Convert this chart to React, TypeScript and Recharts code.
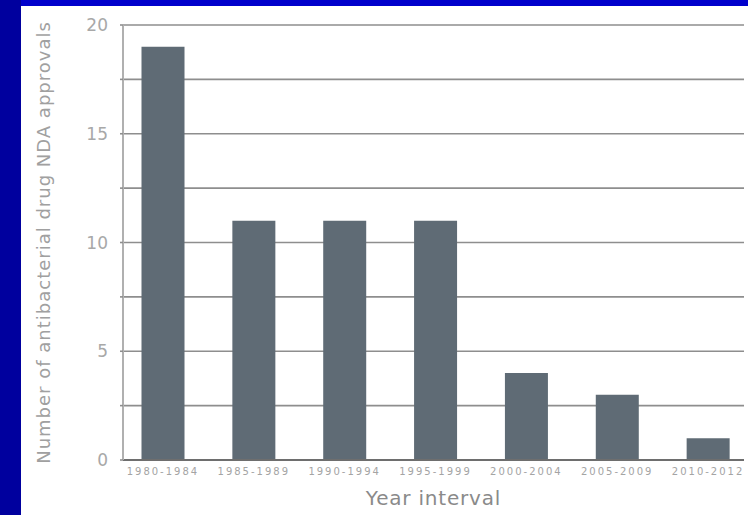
import { BarChart, Bar, XAxis, YAxis, CartesianGrid, Label } from "recharts";

const intervals = [
  "1980-1984",
  "1985-1989",
  "1990-1994",
  "1995-1999",
  "2000-2004",
  "2005-2009",
  "2010-2012",
];
const approvals = [19, 11, 11, 11, 4, 3, 1];
const yTicks = [0, 2.5, 5, 7.5, 10, 12.5, 15, 17.5, 20];

const data = intervals.map((interval, i) => ({ interval, count: approvals[i] }));

const font = "'DejaVu Sans', Verdana, sans-serif";

const App = () => {
  return (
    <div
      style={{
        position: "absolute",
        left: 0,
        top: 0,
        width: 748,
        height: 515,
        background: "#ffffff",
        overflow: "hidden",
        fontFamily: font,
      }}
    >
      <div style={{ position: "absolute", left: 0, top: 0, width: 21, height: 515, background: "#00009e" }} />
      <div style={{ position: "absolute", left: 21, top: 0, width: 727, height: 6, background: "#0000cc" }} />
      <div style={{ position: "absolute", left: 0, top: 0 }}>
        <BarChart
          width={748}
          height={515}
          data={data}
          margin={{ top: 25, right: 4, bottom: 25, left: 0 }}
        >
          <CartesianGrid vertical={false} stroke="#8e8e8e" strokeWidth={1.6} />
          <XAxis
            dataKey="interval"
            height={30}
            padding={{ left: -5.5, right: -9.5 }}
            axisLine={{ stroke: "#6e6e6e", strokeWidth: 2 }}
            tickLine={false}
            interval={0}
            tick={{ fontSize: 10, fill: "#a4a4a4", fontFamily: font, letterSpacing: 2 }}
          >
            <Label
              value="Year interval"
              position="bottom"
              offset={1}
              style={{ fontSize: 20, fill: "#8a8a8a", fontFamily: font, letterSpacing: 0.8 }}
            />
          </XAxis>
          <YAxis
            width={123}
            domain={[0, 20]}
            ticks={yTicks}
            interval={0}
            tickFormatter={(v: number) => (v % 5 === 0 ? String(v) : "")}
            axisLine={{ stroke: "#b0b0b0", strokeWidth: 2 }}
            tickLine={{ stroke: "#8e8e8e", strokeWidth: 1.6 }}
            tickSize={3}
            tickMargin={12}
            tick={{ fontSize: 17, fill: "#a8a8a8", fontFamily: font }}
          >
            <Label
              value="Number of antibacterial drug NDA approvals"
              angle={-90}
              position="center"
              dx={-18}
              style={{ fontSize: 18, fill: "#a0a0a0", fontFamily: font, textAnchor: "middle", letterSpacing: 1 }}
            />
          </YAxis>
          <Bar dataKey="count" fill="#5f6b75" barSize={43} isAnimationActive={false} />
        </BarChart>
      </div>
    </div>
  );
};

export default App;
